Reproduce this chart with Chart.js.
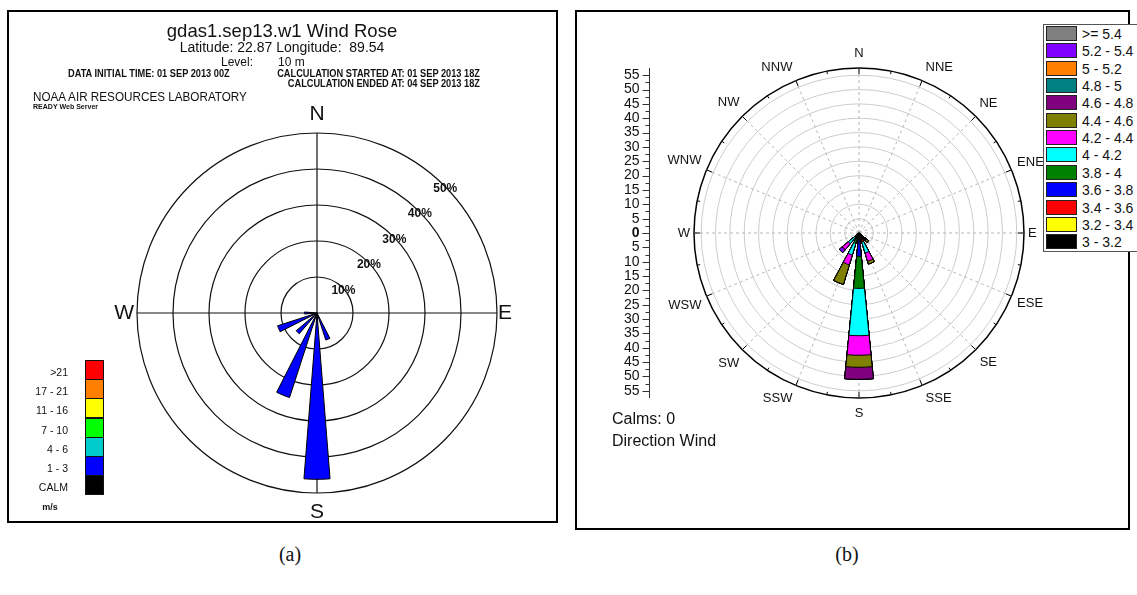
<!DOCTYPE html>
<html>
<head>
<meta charset="utf-8">
<script src="https://cdn.jsdelivr.net/npm/chart.js@4.4.0/dist/chart.umd.min.js"></script>
<style>
    body { margin: 0; background: #fff; font-family: Arial, "Liberation Sans", sans-serif; color: #111; }
    #pagina { position: relative; width: 1137px; height: 595px; overflow: hidden; }
    .marco { position: absolute; border: 2px solid #000; box-sizing: border-box; }
    canvas { position: absolute; }
    .t { position: absolute; white-space: nowrap; line-height: 1; }
    .c { transform: translate(-50%, -50%); }
    .l { transform: translateY(-50%); }
    .r { transform: translate(-100%, -50%); }
    .lc { transform-origin: 0 50%; transform: translateY(-50%) scaleX(.88); }
    .rc { transform-origin: 100% 50%; transform: translate(-100%, -50%) scaleX(.88); }
    .chica { font-weight: bold; font-size: 10.5px; }
    #leyendaA div.sw { position: absolute; left: 85px; width: 19px; height: 20px; border: 1px solid #111; box-sizing: border-box; }
    #leyendaA .t { font-size: 10.5px; }
    #leyendaB { position: absolute; left: 1043px; top: 24px; width: 100px; height: 228px; border: 1px solid #555; background: #fff; box-sizing: border-box; }
    #leyendaB .sw { position: absolute; left: 2px; width: 31px; height: 15px; border: 1px solid #222; box-sizing: border-box; }
    #leyendaB .t { font-size: 14px; left: 38px; }
    .pie { font-family: "Liberation Serif", "Times New Roman", serif; font-size: 20px; }
</style>
</head>
<body>
<div id="pagina">
    <!-- Panel (a) -->
    <canvas id="rosaA" width="550" height="512" style="left:7px;top:10px"></canvas>
    <div class="marco" style="left:7px;top:10px;width:551px;height:513px"></div>
    <div class="t c" style="left:282px;top:31px;font-size:18.5px">gdas1.sep13.w1 Wind Rose</div>
    <div class="t c" style="left:282px;top:47px;font-size:14px">Latitude: 22.87 Longitude:&nbsp; 89.54</div>
    <div class="t r" style="left:253px;top:62px;font-size:12px">Level:</div>
    <div class="t l" style="left:278px;top:62px;font-size:12px">10 m</div>
    <div class="t lc chica" style="left:68px;top:73px">DATA INITIAL TIME: 01 SEP 2013 00Z</div>
    <div class="t rc chica" style="left:480px;top:73px">CALCULATION STARTED AT: 01 SEP 2013 18Z</div>
    <div class="t rc chica" style="left:480px;top:83px">CALCULATION ENDED AT: 04 SEP 2013 18Z</div>
    <div class="t l" style="left:33px;top:96px;font-size:13px;transform-origin:0 50%;transform:translateY(-50%) scaleX(.9)">NOAA AIR RESOURCES LABORATORY</div>
    <div class="t lc" style="left:33px;top:107px;font-size:8px;font-weight:bold">READY Web Server</div>
    <div id="leyendaA"></div>
    <div class="t c" style="left:50px;top:507px;font-size:9px;font-weight:bold">m/s</div>

    <!-- Panel (b) -->
    <canvas id="rosaB" width="555" height="520" style="left:575px;top:10px"></canvas>
    <div class="marco" style="left:575px;top:10px;width:555px;height:520px"></div>
    <div id="leyendaB"></div>
    <div class="t l" style="left:612px;top:419px;font-size:16px">Calms: 0</div>
    <div class="t l" style="left:612px;top:441px;font-size:16px">Direction Wind</div>

    <div class="t c pie" style="left:290px;top:554px">(a)</div>
    <div class="t c pie" style="left:847px;top:554px">(b)</div>
</div>

<script>
// Rumbos en sentido horario desde el norte
const direcciones = ['N', 'NNE', 'NE', 'ENE', 'E', 'ESE', 'SE', 'SSE', 'S', 'SSW', 'SW', 'WSW', 'W', 'WNW', 'NW', 'NNW'];

// Panel (a): frecuencia (%) por rumbo, todo en la clase 1 - 3 m/s
const frecuenciaA = [0, 0, 0, 0, 0, 0, 0, 7.9, 46.2, 24.7, 7.6, 11.5, 3.5, 0, 0, 0];
const anillosA = [10, 20, 30, 40, 50];
const clasesA = ['>21', '17 - 21', '11 - 16', '7 - 10', '4 - 6', '1 - 3', 'CALM'];
const coloresA = ['#ff0000', '#ff8000', '#ffff00', '#00ff00', '#00cccc', '#0000ff', '#000000'];

// Panel (b): clases de velocidad (de menor a mayor)
const clasesB = ['3 - 3.2', '3.2 - 3.4', '3.4 - 3.6', '3.6 - 3.8', '3.8 - 4', '4 - 4.2', '4.2 - 4.4',
                 '4.4 - 4.6', '4.6 - 4.8', '4.8 - 5', '5 - 5.2', '5.2 - 5.4', '>= 5.4'];
const coloresB = ['#000000', '#ffff00', '#ff0000', '#0000ff', '#008000', '#00ffff', '#ff00ff',
                  '#808000', '#800080', '#008080', '#ff8000', '#8000ff', '#808080'];

// Frecuencia de cada clase en los rumbos con datos
const conteoSE  = [3.2, 0, 0,   0,   0,    0,    0,   1.1, 0,   0, 0, 0,   0];
const conteoSSE = [2.2, 0, 1.0, 0,   0,    4.1,  3.0, 1.0, 0,   0, 0, 0,   0];
const conteoS   = [1.2, 0, 0.8, 6.1, 11.2, 16.5, 6.8, 4.2, 4.2, 0, 0, 0,   0];
const conteoSSW = [2.0, 0, 0,   0,   1.8,  4.2,  3.6, 7.1, 0,   0, 0, 0,   0];
const conteoSW  = [1.8, 0, 0,   0,   0,    3.0,  2.7, 0,   0,   0, 0, 1.4, 0];
const conteoPorRumbo = { SE: conteoSE, SSE: conteoSSE, S: conteoS, SSW: conteoSSW, SW: conteoSW };

// Escala radial del panel (b)
const anillosB = [0, 5, 10, 15, 20, 25, 30, 35, 40, 45, 50, 55];
const rMaxB = 57.5;

// Ancho angular de cada pétalo (grados)
const anchoPetaloA = 9;
const anchoPetaloB = 11.25;

const rad = g => g * Math.PI / 180;

// Cada rumbo ocupa dos arcos: el pétalo y el hueco hasta el siguiente
function etiquetasIntercaladas() {
    const etiquetas = [];
    direcciones.forEach(d => etiquetas.push(d, ''));
    return etiquetas;
}

function opcionesArco(ancho) {
    return {
        borderColor: '#000',
        borderWidth: ctx => (ctx.index % 2 || !ctx.raw) ? 0 : 1,
        angle: ctx => ctx.index % 2 ? 22.5 - ancho : ancho
    };
}

const marcoA = {
    id: 'marcoA',
    beforeDatasetsDraw(chart) {
        const r = chart.scales.r;
        const ctx = chart.ctx;
        const cx = r.xCenter, cy = r.yCenter, R = r.getDistanceFromCenterForValue(50);
        ctx.save();
        ctx.strokeStyle = '#111';
        ctx.lineWidth = 1.2;
        ctx.beginPath();
        ctx.moveTo(cx - R, cy); ctx.lineTo(cx + R, cy);
        ctx.moveTo(cx, cy - R); ctx.lineTo(cx, cy + R);
        ctx.stroke();
        ctx.restore();
    },
    afterDraw(chart) {
        const r = chart.scales.r;
        const ctx = chart.ctx;
        const cx = r.xCenter, cy = r.yCenter, R = r.getDistanceFromCenterForValue(50);
        ctx.save();
        ctx.fillStyle = '#111';
        ctx.font = '21px Arial, "Liberation Sans"';
        ctx.textAlign = 'center';
        ctx.textBaseline = 'bottom';
        ctx.fillText('N', cx, cy - R - 8);
        ctx.textBaseline = 'top';
        ctx.fillText('S', cx, cy + R + 9);
        ctx.textBaseline = 'middle';
        ctx.textAlign = 'right';
        ctx.fillText('W', cx - R - 3, cy);
        ctx.textAlign = 'left';
        ctx.fillText('E', cx + R + 1, cy);

        // porcentajes sobre la diagonal NE
        ctx.font = 'bold 12px Arial, "Liberation Sans"';
        ctx.textAlign = 'center';
        anillosA.forEach(v => {
            const d = r.getDistanceFromCenterForValue(v);
            ctx.fillText(v + '%', cx + d * Math.SQRT1_2 + 1, cy - d * Math.SQRT1_2 + 3);
        });
        ctx.restore();
    }
};

const ejesB = {
    id: 'ejesB',
    beforeDatasetsDraw(chart) {
        const r = chart.scales.r;
        const ctx = chart.ctx;
        const cx = r.xCenter, cy = r.yCenter, R = r.getDistanceFromCenterForValue(rMaxB);
        ctx.save();
        ctx.strokeStyle = '#b8b8b8';
        ctx.lineWidth = 1;
        ctx.setLineDash([3, 3]);
        direcciones.forEach((d, i) => {
            const a = rad(i * 22.5);
            ctx.beginPath();
            ctx.moveTo(cx, cy);
            ctx.lineTo(cx + R * Math.sin(a), cy - R * Math.cos(a));
            ctx.stroke();
        });
        ctx.setLineDash([]);
        ctx.strokeStyle = '#000';
        for (let i = 0; i < 32; i++) {
            const a = rad(i * 11.25);
            const largo = i % 2 ? 3 : 6;
            ctx.beginPath();
            ctx.moveTo(cx + R * Math.sin(a), cy - R * Math.cos(a));
            ctx.lineTo(cx + (R - largo) * Math.sin(a), cy - (R - largo) * Math.cos(a));
            ctx.stroke();
        }
        ctx.restore();
    },
    afterDraw(chart) {
        const r = chart.scales.r;
        const ctx = chart.ctx;
        const cx = r.xCenter, cy = r.yCenter, R = r.getDistanceFromCenterForValue(rMaxB);
        ctx.save();

        // nombres de los rumbos
        ctx.fillStyle = '#111';
        ctx.font = '13px Arial, "Liberation Sans"';
        ctx.textAlign = 'center';
        ctx.textBaseline = 'middle';
        direcciones.forEach((d, i) => {
            const a = rad(i * 22.5);
            const s = Math.sin(a), c = Math.cos(a);
            const w = ctx.measureText(d).width;
            let x, y;
            if (i % 4 !== 0 && Math.abs(c) > 0.9) {
                // NNE, SSE, SSW, NNW: la esquina de la etiqueta toca el radio
                const p = R + 9;
                x = cx + p * s + Math.sign(s) * w / 2;
                y = cy - p * c - Math.sign(c) * 5;
            } else {
                const dist = R + 4 + Math.abs(s) * w / 2 + Math.abs(c) * 11;
                x = cx + dist * s;
                y = cy - dist * c;
            }
            ctx.fillText(d, x, y);
        });

        // eje vertical a la izquierda, simétrico respecto al centro
        const xEje = 74.5;
        ctx.strokeStyle = '#333';
        ctx.lineWidth = 1;
        ctx.beginPath();
        ctx.moveTo(xEje, cy - R);
        ctx.lineTo(xEje, cy + R);
        anillosB.forEach(v => {
            const d = r.getDistanceFromCenterForValue(v);
            [cy - d, cy + d].forEach(y => {
                ctx.moveTo(xEje - 7, Math.round(y) + 0.5);
                ctx.lineTo(xEje, Math.round(y) + 0.5);
            });
            if (v + 2.5 < rMaxB) {
                const dm = r.getDistanceFromCenterForValue(v + 2.5);
                [cy - dm, cy + dm].forEach(y => {
                    ctx.moveTo(xEje - 4, Math.round(y) + 0.5);
                    ctx.lineTo(xEje, Math.round(y) + 0.5);
                });
            }
        });
        ctx.stroke();

        ctx.textAlign = 'right';
        anillosB.forEach(v => {
            const d = r.getDistanceFromCenterForValue(v);
            ctx.font = (v === 0 ? 'bold ' : '') + '14px Arial, "Liberation Sans"';
            ctx.fillText(String(v), xEje - 10, cy - d);
            if (v > 0) ctx.fillText(String(v), xEje - 10, cy + d);
        });
        ctx.restore();
    }
};

function crearRosaA() {
    const valores = [];
    frecuenciaA.forEach(v => valores.push(v, 0));

    new Chart(document.getElementById('rosaA'), {
        type: 'polarArea',
        data: {
            labels: etiquetasIntercaladas(),
            datasets: [Object.assign({ data: valores, backgroundColor: '#0000ff' }, opcionesArco(anchoPetaloA))]
        },
        options: {
            responsive: false,
            animation: false,
            events: [],
            layout: { padding: { left: 130, top: 123, right: 60, bottom: 29 } },
            plugins: { legend: { display: false }, tooltip: { enabled: false } },
            scales: {
                r: {
                    min: 0,
                    max: 50,
                    startAngle: -anchoPetaloA / 2,
                    ticks: { display: false, stepSize: 10 },
                    grid: { color: '#111', lineWidth: 1.2 },
                    angleLines: { display: false },
                    pointLabels: { display: false }
                }
            }
        },
        plugins: [marcoA]
    });
}

function crearRosaB() {
    // valores acumulados por clase: cada anillo cubre a los de clase superior
    const datasets = clasesB.map((clase, k) => {
        const valores = [];
        direcciones.forEach(d => {
            const serie = conteoPorRumbo[d];
            const acum = serie ? serie.slice(0, k + 1).reduce((s, v) => s + v, 0) : 0;
            valores.push(+acum.toFixed(2), 0);
        });
        return Object.assign({ label: clase, data: valores, backgroundColor: coloresB[k] }, opcionesArco(anchoPetaloB));
    });

    new Chart(document.getElementById('rosaB'), {
        type: 'polarArea',
        data: { labels: etiquetasIntercaladas(), datasets },
        options: {
            responsive: false,
            animation: false,
            events: [],
            layout: { padding: { left: 119, top: 58, right: 106, bottom: 132 } },
            plugins: { legend: { display: false }, tooltip: { enabled: false } },
            scales: {
                r: {
                    min: 0,
                    max: rMaxB,
                    startAngle: -anchoPetaloB / 2,
                    afterBuildTicks: s => { s.ticks = anillosB.concat([rMaxB]).map(v => ({ value: v })); },
                    ticks: { display: false },
                    grid: {
                        color: c => c.tick && c.tick.value === rMaxB ? '#000' : '#cdcdcd',
                        lineWidth: c => c.tick && c.tick.value === rMaxB ? 1.5 : 1
                    },
                    angleLines: { display: false },
                    pointLabels: { display: false }
                }
            }
        },
        plugins: [ejesB]
    });
}

function crearLeyendas() {
    const contA = document.getElementById('leyendaA');
    clasesA.forEach((clase, i) => {
        const top = 360 + i * 19.2;
        contA.insertAdjacentHTML('beforeend',
            `<div class="sw" style="top:${top}px;background:${coloresA[i]}"></div>` +
            `<div class="t r" style="left:68px;top:${top + 12}px">${clase}</div>`);
    });

    const contB = document.getElementById('leyendaB');
    clasesB.slice().reverse().forEach((clase, i) => {
        const color = coloresB[clasesB.length - 1 - i];
        const top = 1 + i * 17.35;
        contB.insertAdjacentHTML('beforeend',
            `<div class="sw" style="top:${top}px;background:${color}"></div>` +
            `<div class="t l" style="top:${top + 8}px">${clase}</div>`);
    });
}

crearLeyendas();
crearRosaA();
crearRosaB();
</script>
</body>
</html>
